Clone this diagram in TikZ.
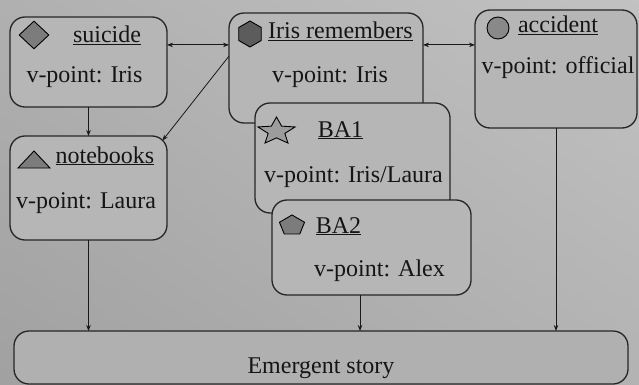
\documentclass[tikz,border=0pt]{standalone}
\usepackage{fontspec}
\setmainfont{Liberation Serif}
\usetikzlibrary{shapes.geometric,arrows.meta,calc,shadings}
\definecolor{boxgray}{HTML}{B6B6B6}
\definecolor{lowgray}{HTML}{B0B0B0}
\definecolor{icondark}{HTML}{5C5C5C}
\definecolor{iconmid}{HTML}{7C7C7C}
\definecolor{iconlight}{HTML}{9C9C9C}
\definecolor{txt}{HTML}{151515}
\tikzset{
  card/.style={draw=black!85, line width=1.3pt, rounded corners=15pt, fill=boxgray,
    rectangle, inner sep=0pt, outer sep=0pt},
  lbl/.style={anchor=base, inner sep=0pt, text=txt, font=\fontsize{24}{28}\selectfont},
  icon/.style={draw=black, line width=0.9pt},
  link/.style={draw=black!90, line width=0.8pt, -{Stealth[length=6pt,width=4.5pt]}},
  dlink/.style={draw=black!90, line width=0.8pt, {Stealth[length=6pt,width=4.5pt]}-{Stealth[length=6pt,width=4.5pt]}}
}
\begin{document}
\begin{tikzpicture}[x=1pt,y=-1pt]
\useasboundingbox (0,0) rectangle (639,385);
\shade[upper left=black!31, upper right=black!24, lower left=black!37, lower right=black!30]
  (0,0) rectangle (639,385);

% boxes
\node[card, minimum width=157pt, minimum height=90pt] (suicide) at (88.5,62) {};
\node[card, minimum width=194pt, minimum height=110pt] (iris) at (326,68) {};
\node[card, minimum width=162pt, minimum height=118pt] (accident) at (556,69) {};
\node[card, minimum width=157pt, minimum height=104pt] (notebooks) at (88.5,188) {};
\node[card, minimum width=195pt, minimum height=110pt] (ba1) at (352.5,158) {};
\node[card, minimum width=199pt, minimum height=95pt] (ba2) at (371.5,247.5) {};
\node[card, fill=lowgray, minimum width=614pt, minimum height=53pt] (emergent) at (321,357.5) {};

% icons
\node[icon, diamond, fill=iconmid, minimum width=30pt, minimum height=28pt, inner sep=0pt] (icdiamond) at (34,35) {};
\node[icon, regular polygon, regular polygon sides=6, shape border rotate=30, fill=icondark, minimum size=26pt, inner sep=0pt] (ichex) at (250,34) {};
\node[icon, circle, fill=iconmid!90!white, minimum size=22pt, inner sep=0pt] (iccircle) at (498,28) {};
\draw[icon, fill=iconmid] (18,168) -- (34,151) -- (50,168) -- cycle;
\draw[icon, fill=iconlight, shift={(276.5,131.4)}, xscale=19.5, yscale=-14.4]
  (90:1) -- (126:0.45) -- (162:1) -- (198:0.45) -- (234:1) -- (270:0.45)
  -- (306:1) -- (342:0.45) -- (18:1) -- (54:0.45) -- cycle;
\draw[icon, fill=iconmid, shift={(292,225.5)}, xscale=13.2, yscale=-10.5]
  (90:1) -- (162:1) -- (234:1) -- (306:1) -- (18:1) -- cycle;

% texts
\node[lbl] (t1) at (107,43) {\underline{suicide}};
\node[lbl] (v1) at (84.5,83) {v-point: Iris};
\node[lbl] (t2) at (340.5,39) {\underline{Iris remembers}};
\node[lbl] (v2) at (330,83) {v-point: Iris};
\node[lbl] (t3) at (558,33) {\underline{accident}};
\node[lbl] (v3) at (558,74) {v-point: official};
\node[lbl] (t4) at (105,163) {\underline{notebooks}};
\node[lbl] (v4) at (86,208) {v-point: Laura};
\node[lbl] (t5) at (340.5,137) {\underline{BA1}};
\node[lbl] (v5) at (353.5,182) {v-point: Iris/Laura};
\node[lbl] (t6) at (338.5,233) {\underline{BA2}};
\node[lbl] (v6) at (379.5,276) {v-point: Alex};
\node[lbl] (t7) at (321,373) {Emergent story};

% connectors
\coordinate (ya) at ($(suicide.north east)!0.31!(suicide.south east)$);
\draw[dlink] (suicide.east |- ya) -- (iris.west |- ya);
\draw[dlink] (iris.east |- ya) -- (accident.west |- ya);
\draw[link] (suicide.south) -- (notebooks.north);
\coordinate (nbcorner) at ($(notebooks.north east)+(-4.6,4.6)$);
\draw[link] (iris.173.5) -- (nbcorner);
\draw[link] (notebooks.south) -- (emergent.north -| notebooks.south);
\coordinate (ba2out) at ($(ba2.south)+(-11.5,0)$);
\draw[link] (ba2out) -- (emergent.north -| ba2out);
\draw[link] (accident.south) -- (emergent.north -| accident.south);
\end{tikzpicture}
\end{document}
